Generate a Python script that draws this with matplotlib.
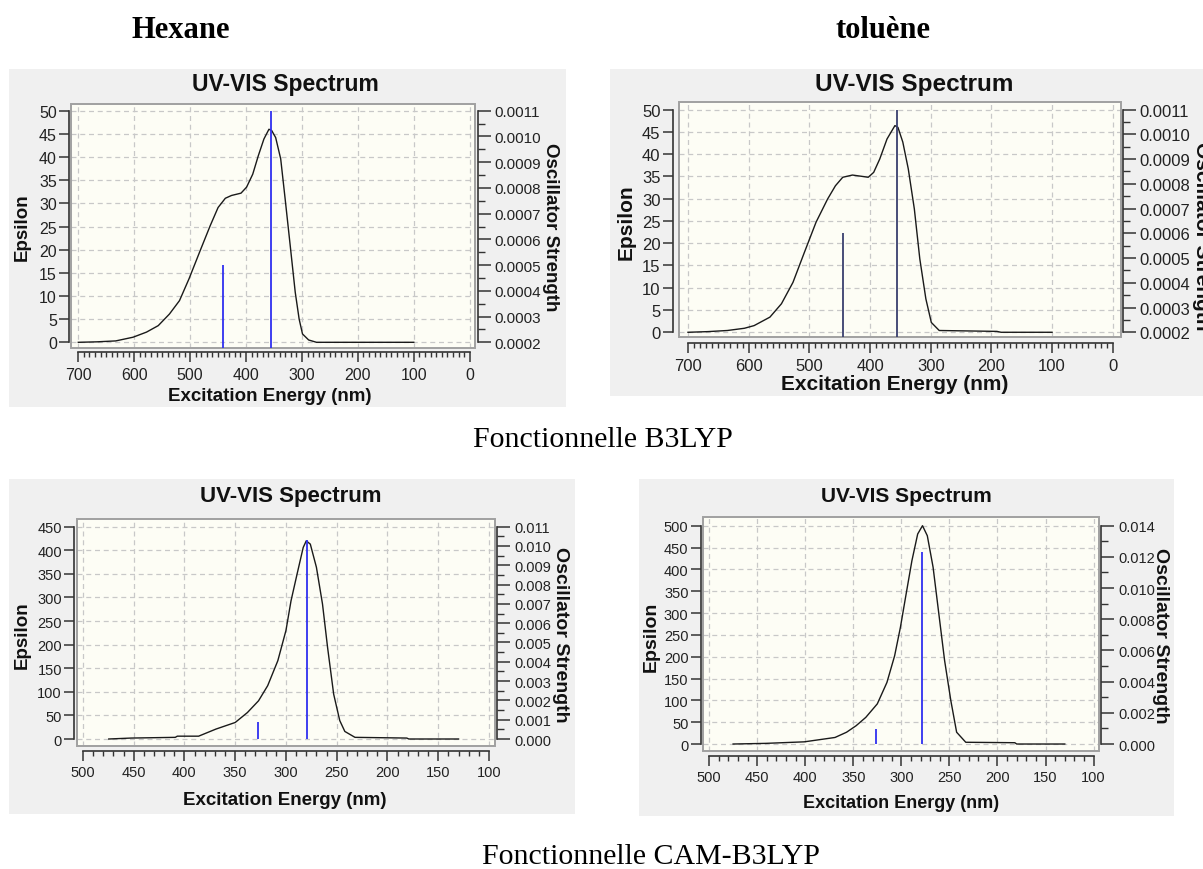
import matplotlib
matplotlib.use('Agg')
import matplotlib.pyplot as plt
from matplotlib.patches import Rectangle
from matplotlib.ticker import FixedLocator, FormatStrFormatter
import numpy as np

# ---------------- data ----------------
# B3LYP / hexane
wl_b3_hex = [700, 667, 633, 602, 578, 557, 537, 519, 502, 481, 464, 450, 437, 426, 409,
             399, 388, 378, 368, 359, 354, 347, 338, 330, 321, 312, 305, 299, 288, 274, 100]
eps_b3_hex = [0, 0.1, 0.3, 1.1, 2.2, 3.6, 6.1, 9.0, 13.7, 20.1, 25.2, 29.1, 31.1, 31.7, 32.2,
              33.5, 36.3, 40.3, 43.9, 46.0, 45.7, 44.2, 39.6, 30.9, 20.9, 10.8, 5.0, 1.8, 0.5, 0, 0]
stick_wl_b3_hex = [441, 354.5]
stick_f_b3_hex = [0.0005, 0.0011]

# B3LYP / toluene
wl_b3_tol = [700, 667, 635, 607, 591, 565, 546, 527, 508, 489, 470, 457, 445, 429, 413,
             403, 394, 384, 372, 359, 354, 346, 337, 327, 318, 308, 299, 286, 191, 184, 100]
eps_b3_tol = [0, 0.15, 0.4, 0.9, 1.5, 3.4, 6.4, 11.2, 18.0, 24.7, 29.9, 32.9, 34.8, 35.3, 35.0,
              34.8, 35.9, 38.9, 43.4, 46.4, 46.0, 42.7, 36.7, 27.7, 16.5, 7.5, 2.2, 0.4, 0.2, 0, 0]
stick_wl_b3_tol = [444, 356]
stick_f_b3_tol = [0.0006, 0.0011]

# CAM-B3LYP / hexane
wl_cam_hex = [474.5, 452.5, 409, 407, 386, 369, 350, 338, 327, 318, 308, 300, 295, 289, 283,
              280, 276, 270, 264, 259, 253, 247, 242, 232, 181, 179, 130]
eps_cam_hex = [0, 2, 3.5, 6, 6, 21, 35, 56, 81, 113, 166, 230, 293, 350, 406,
               420, 413, 364, 286, 194, 95, 39, 16, 3.5, 2, 0, 0]
stick_wl_cam_hex = [327.5, 279]
stick_f_cam_hex = [0.0009, 0.0103]

# CAM-B3LYP / toluene
wl_cam_tol = [475, 441, 401, 385, 369, 357, 347, 337, 325, 315, 307, 301, 295, 289, 283,
              278, 273, 267, 261, 255, 248.5, 242.5, 233, 182, 180, 130]
eps_cam_tol = [0, 1.5, 5, 10, 15, 27, 42, 61, 92, 141, 202, 267, 344, 420, 481,
               500, 477, 405, 298, 191, 99, 27, 4, 3, 0, 0]
stick_wl_cam_tol = [326, 279]
stick_f_cam_tol = [0.00096, 0.0123]

header_labels = ["Hexane", "toluène"]
footer_labels = ["Fonctionnelle B3LYP", "Fonctionnelle CAM-B3LYP"]
title_text = "UV-VIS Spectrum"
xlabel_text = "Excitation Energy (nm)"
ylabel_text = "Epsilon"
rlabel_text = "Oscillator Strength"

# ---------------- layout ----------------
W, H = 1203, 870
plt.rcParams['font.family'] = ['Liberation Sans', 'DejaVu Sans']
fig = plt.figure(figsize=(W / 100, H / 100), dpi=100)
fig.patch.set_facecolor('white')
SERIF = ['Liberation Serif', 'DejaVu Serif']
PT = 0.72  # points per pixel


def fx(x):
    return x / W


def fy(y):
    return 1 - y / H


def grey(x0, y0, x1, y1):
    fig.add_artist(Rectangle((fx(x0), fy(y1)), (x1 - x0) / W, (y1 - y0) / H,
                             transform=fig.transFigure, facecolor='#f0f0f0',
                             edgecolor='none', zorder=0))


def panel(P):
    grey(*P['grey'])
    bx0, by0, bx1, by1 = P['box']
    ax = fig.add_axes([fx(bx0), fy(by1), (bx1 - bx0) / W, (by1 - by0) / H])
    ax.set_facecolor('#fdfdf5')
    ax.set_xlim(P['xlim'])
    ax.set_ylim(P['ylim'])
    for s in ['top', 'right']:
        ax.spines[s].set_visible(False)
    ax.spines['left'].set_position(('outward', (bx0 - P['lsx']) * PT))
    ax.spines['left'].set_bounds(P['yt'][0], P['yt'][-1])
    ax.spines['bottom'].set_position(('outward', (P['axy'] - by1) * PT))
    ax.spines['bottom'].set_bounds(min(P['xt']), max(P['xt']))
    for s in ['left', 'bottom']:
        ax.spines[s].set_color('#333333')
        ax.spines[s].set_linewidth(1.2)
    ax.xaxis.set_major_locator(FixedLocator(P['xt']))
    ax.xaxis.set_minor_locator(FixedLocator(P['xm']))
    ax.yaxis.set_major_locator(FixedLocator(P['yt']))
    ax.xaxis.set_major_formatter(FormatStrFormatter('%d'))
    ax.yaxis.set_major_formatter(FormatStrFormatter('%d'))
    ax.tick_params(axis='y', direction='out', length=7, width=1.1, color='#333333',
                   labelsize=P['tfs'], pad=2, labelcolor='#222222')
    ax.tick_params(axis='x', which='major', direction='out', length=7, width=1.1,
                   color='#333333', labelsize=P['tfs'], pad=3.5, labelcolor='#222222')
    ax.tick_params(axis='x', which='minor', direction='out', length=3.5, width=1.0,
                   color='#333333')
    ax.set_axisbelow(True)
    ax.grid(True, which='major', color='#c8c8c8', linestyle=(0, (4, 3)), linewidth=0.9)
    ax.add_patch(Rectangle((0, 0), 1, 1, transform=ax.transAxes, fill=False,
                           edgecolor='#a0a0a0', lw=1.4, clip_on=False, zorder=6))
    ax.plot(P['wl'], P['eps'], color='#1a1a1a', lw=1.0, zorder=3)

    a, b = P['fmap']
    ax2 = ax.twinx()
    ax2.set_ylim(a + b * P['ylim'][0], a + b * P['ylim'][1])
    for s in ['top', 'left', 'bottom']:
        ax2.spines[s].set_visible(False)
    ax2.spines['right'].set_position(('outward', (P['rsx'] - bx1) * PT))
    ax2.spines['right'].set_bounds(P['ft'][0], P['ft'][-1])
    ax2.spines['right'].set_color('#333333')
    ax2.spines['right'].set_linewidth(1.2)
    ax2.yaxis.set_major_locator(FixedLocator(P['ft']))
    ax2.yaxis.set_minor_locator(FixedLocator(P['fm']))
    ax2.yaxis.set_major_formatter(FormatStrFormatter(P['ffmt']))
    ax2.tick_params(axis='y', which='major', direction='out', length=9, width=1.1,
                    color='#333333', labelsize=P['rfs'], pad=3, labelcolor='#222222')
    ax2.tick_params(axis='y', which='minor', direction='out', length=5, width=1.0,
                    color='#333333')
    ax2.vlines(P['swl'], 0, P['sf'], colors=P['scol'], lw=1.3, zorder=4)

    tx, ty, tfs = P['title']
    fig.text(fx(tx), fy(ty), title_text, ha='center', va='center', fontsize=tfs,
             fontweight='bold', color='#111111')
    lx, ly, lfs = P['xlabel']
    fig.text(fx(lx), fy(ly), xlabel_text, ha='center', va='center', fontsize=lfs,
             fontweight='bold', color='#111111')
    yx, yy, yfs = P['ylabel']
    fig.text(fx(yx), fy(yy), ylabel_text, ha='center', va='center', fontsize=yfs,
             fontweight='bold', rotation=90, color='#111111')
    rx, ry, rfs = P['rlabel']
    fig.text(fx(rx), fy(ry), rlabel_text, ha='center', va='center', fontsize=rfs,
             fontweight='bold', rotation=270, color='#111111')


def rng(a, b, step):
    n = int(round((b - a) / step))
    return [a + i * step for i in range(n + 1)]


panels = [
    dict(grey=(9, 70, 566, 408), box=(71.3, 105, 475, 349), lsx=69.4, axy=353.3, rsx=478,
         xlim=(712.5, -9.5), ylim=(-1.23, 51.45),
         xt=rng(0, 700, 100), xm=rng(0, 700, 10), yt=rng(0, 50, 5),
         fmap=(0.0002, 0.0009 / 50), ft=rng(0.0002, 0.0011, 0.0001),
         fm=rng(0.00025, 0.00105, 0.0001), ffmt='%.4f',
         wl=wl_b3_hex, eps=eps_b3_hex, swl=stick_wl_b3_hex, sf=stick_f_b3_hex,
         scol='#2f2ff0', tfs=11.5, rfs=11,
         title=(285, 85, 16.5), xlabel=(270, 397, 13.5), ylabel=(22, 227, 13.5),
         rlabel=(551, 227, 13.5)),
    dict(grey=(610, 70, 1210, 397), box=(679, 103, 1120.6, 338), lsx=673, axy=344, rsx=1122.5,
         xlim=(714.8, -12.9), ylim=(-1.06, 51.7),
         xt=rng(0, 700, 100), xm=rng(0, 700, 10), yt=rng(0, 50, 5),
         fmap=(0.0002, 0.0009 / 50), ft=rng(0.0002, 0.0011, 0.0001),
         fm=rng(0.00025, 0.00105, 0.0001), ffmt='%.4f',
         wl=wl_b3_tol, eps=eps_b3_tol, swl=stick_wl_b3_tol, sf=stick_f_b3_tol,
         scol='#3a3f6e', tfs=12, rfs=12,
         title=(914, 85, 17.5), xlabel=(895, 385, 15), ylabel=(626, 222, 15),
         rlabel=(1201, 236, 15)),
    dict(grey=(9, 480, 575, 815), box=(77, 520, 494.7, 746.7), lsx=74.4, axy=751.7, rsx=497.4,
         xlim=(505.8, 94.4), ylim=(-14.2, 466.3),
         xt=rng(100, 500, 50), xm=rng(100, 500, 10), yt=rng(0, 450, 50),
         fmap=(0.0, 0.011 / 450), ft=rng(0.0, 0.011, 0.001),
         fm=rng(0.0005, 0.0105, 0.001), ffmt='%.3f',
         wl=wl_cam_hex, eps=eps_cam_hex, swl=stick_wl_cam_hex, sf=stick_f_cam_hex,
         scol='#2f2ff0', tfs=10.5, rfs=10.5,
         title=(291, 497, 16), xlabel=(285, 801, 13.5), ylabel=(22, 635, 13.5),
         rlabel=(560, 635, 14)),
    dict(grey=(639, 480, 1174, 817), box=(703.3, 518.3, 1099.4, 751.7), lsx=701, axy=756.7,
         rsx=1101.3, xlim=(506, 94), ylim=(-15.3, 519.2),
         xt=rng(100, 500, 50), xm=rng(100, 500, 10), yt=rng(0, 500, 50),
         fmap=(0.0, 0.014 / 500), ft=rng(0.0, 0.014, 0.002),
         fm=rng(0.001, 0.013, 0.002), ffmt='%.3f',
         wl=wl_cam_tol, eps=eps_cam_tol, swl=stick_wl_cam_tol, sf=stick_f_cam_tol,
         scol='#2f2ff0', tfs=10.5, rfs=10.5,
         title=(906.5, 497, 15), xlabel=(901, 804, 13), ylabel=(651, 637, 14),
         rlabel=(1161, 636, 14)),
]

for P in panels:
    panel(P)

fig.text(fx(181), fy(30), header_labels[0], ha='center', va='center', fontsize=22,
         fontweight='bold', family=SERIF)
fig.text(fx(883), fy(30), header_labels[1], ha='center', va='center', fontsize=22,
         fontweight='bold', family=SERIF)
fig.text(fx(603), fy(440), footer_labels[0], ha='center', va='center', fontsize=21.5,
         family=SERIF)
fig.text(fx(651), fy(857), footer_labels[1], ha='center', va='center', fontsize=21.5,
         family=SERIF)

fig.savefig('out.png', dpi=100, facecolor='white')
